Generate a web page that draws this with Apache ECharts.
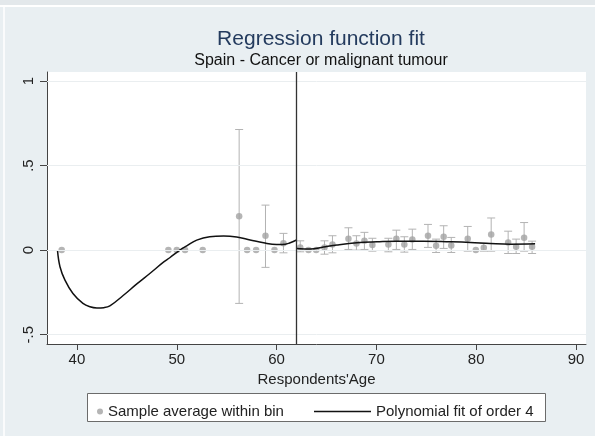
<!DOCTYPE html>
<html>
<head>
<meta charset="utf-8">
<script src="https://cdn.jsdelivr.net/npm/echarts@6/dist/echarts.min.js"></script>
<style>
html,body{margin:0;padding:0;background:#e9eff2;}
#c{width:595px;height:436px;}
</style>
</head>
<body>
<div id="c"></div>
<script>
// ---- data ----
const binAge  = [38.47, 49.16, 50.0, 50.83, 52.6, 56.25, 57.05, 57.95, 58.89, 59.79, 60.69, 62.37, 63.2, 63.97, 64.8, 65.6, 67.2, 68.0, 68.8, 69.6, 71.2, 72.0, 72.8, 73.6, 75.17, 75.98, 76.74, 77.5, 79.15, 79.96, 80.76, 81.5, 83.2, 84.0, 84.8, 85.6];
const binMean = [0, 0, 0, 0, 0, 0.2, 0, 0, 0.085, 0, 0.04, 0.016, 0, 0, 0.016, 0.033, 0.067, 0.039, 0.055, 0.03, 0.033, 0.067, 0.033, 0.063, 0.085, 0.026, 0.079, 0.028, 0.067, 0, 0.014, 0.093, 0.045, 0.02, 0.073, 0.02];
const ciLow   = [null, null, null, null, null, -0.315, null, null, -0.102, null, -0.016, -0.01, null, null, -0.024, -0.016, 0.004, 0, 0.004, -0.006, -0.01, 0.004, -0.012, 0.004, 0.016, -0.014, 0.01, -0.014, -0.006, null, -0.006, -0.006, -0.02, -0.02, -0.006, -0.02];
const ciHigh  = [null, null, null, null, null, 0.713, null, null, 0.266, null, 0.099, 0.055, null, null, 0.055, 0.085, 0.132, 0.085, 0.105, 0.07, 0.07, 0.118, 0.079, 0.124, 0.152, 0.065, 0.144, 0.075, 0.14, null, 0.04, 0.19, 0.112, 0.065, 0.163, 0.053];

const fitLeftAge = [38.05, 38.3, 38.8, 39.6, 40.6, 41.3, 42.0, 42.7, 43.3, 44.6, 46.0, 47.3, 48.7, 49.3, 50.3, 51.0, 52.0, 53.3, 54.7, 56.0, 57.35, 58.7, 60.0, 60.6, 61.3, 62.0];
const fitLeftVal = [0, -0.098, -0.177, -0.256, -0.315, -0.335, -0.342, -0.34, -0.33, -0.27, -0.2, -0.138, -0.07, -0.045, 0, 0.025, 0.059, 0.079, 0.083, 0.077, 0.06, 0.043, 0.033, 0.033, 0.042, 0.06];
const fitRightAge = [62.0, 63.4, 64.7, 66.05, 68.05, 70.06, 72.07, 74.7, 77.4, 79.4, 81.4, 83.4, 85.9];
const fitRightVal = [0.01, 0.006, 0.018, 0.03, 0.043, 0.049, 0.053, 0.053, 0.049, 0.045, 0.039, 0.035, 0.037];

const cutoff = 62;
const xTicks = [40, 50, 60, 70, 80, 90];
const yTicks = [-0.5, 0, 0.5, 1];
const yTickText = {'-0.5': '-.5', '0': '0', '0.5': '.5', '1': '1'};

const titleText = 'Regression function fit';
const subtitleText = 'Spain - Cancer or malignant tumour';
const xName = "Respondents'Age";
const nameBins = 'Sample average within bin';
const nameFit = 'Polynomial fit of order 4';

// ---- build ----
const scatterData = binAge.map((a, i) => [a, binMean[i]]);
const ciData = [];
binAge.forEach((a, i) => { if (ciLow[i] !== null) ciData.push([a, ciLow[i], ciHigh[i]]); });
const leftData = fitLeftAge.map((a, i) => [a, fitLeftVal[i]]);
const rightData = fitRightAge.map((a, i) => [a, fitRightVal[i]]);

const FONT = '"Liberation Sans", Arial, sans-serif';
const chart = echarts.init(document.getElementById('c'), null, {renderer: 'canvas'});

chart.setOption({
  backgroundColor: '#e9eff2',
  animation: false,
  title: [
    {text: titleText, left: 316, textAlign: 'center', top: 24,
     textStyle: {fontFamily: FONT, fontSize: 21, fontWeight: 'normal', color: '#243b5e'}},
    {text: subtitleText, left: 316, textAlign: 'center', top: 48,
     textStyle: {fontFamily: FONT, fontSize: 16, fontWeight: 'normal', color: '#111'}}
  ],
  grid: {left: 47, right: 9, top: 72, bottom: 92, show: true, backgroundColor: '#ffffff', borderWidth: 0},
  xAxis: {
    type: 'value', min: 37, max: 91,
    name: xName, nameLocation: 'middle', nameGap: 26,
    nameTextStyle: {fontFamily: FONT, fontSize: 15, color: '#222'},
    axisLine: {show: true, onZero: false, lineStyle: {color: '#444', width: 1}},
    axisTick: {show: true, length: 6, customValues: xTicks, lineStyle: {color: '#444'}},
    axisLabel: {customValues: xTicks, margin: 8, fontFamily: FONT, fontSize: 15, color: '#222'},
    splitLine: {show: false}
  },
  yAxis: {
    type: 'value', min: -0.555, max: 1.053,
    axisLine: {show: true, onZero: false, lineStyle: {color: '#444', width: 1}},
    axisTick: {show: true, length: 7, customValues: yTicks, lineStyle: {color: '#444'}},
    axisLabel: {customValues: yTicks, rotate: 90, margin: 11, fontFamily: FONT, fontSize: 15, color: '#222',
      formatter: v => yTickText[String(v)] !== undefined ? yTickText[String(v)] : String(v)},
    splitLine: {show: false}
  },
  legend: [
    {data: [nameBins], left: 92, top: 399, icon: 'circle', itemWidth: 6, itemHeight: 6,
     textStyle: {fontFamily: FONT, fontSize: 15, color: '#222'}, selectedMode: false},
    {data: [{name: nameFit, icon: 'rect'}], left: 309, top: 399, itemWidth: 57, itemHeight: 1.5,
     textStyle: {fontFamily: FONT, fontSize: 15, color: '#222'}, selectedMode: false}
  ],
  graphic: [
    {type: 'rect', left: 87, top: 393, shape: {width: 458, height: 28}, z: -1,
     style: {fill: '#ffffff', stroke: '#6b6b6b', lineWidth: 1}},
    {type: 'line', shape: {x1: 0, y1: 6, x2: 595, y2: 6}, style: {stroke: '#ffffff', lineWidth: 2}, z: -1},
    {type: 'line', shape: {x1: 4, y1: 6, x2: 4, y2: 436}, style: {stroke: '#ffffff', lineWidth: 1.5}, z: -1},
    {type: 'rect', shape: {x: 0, y: 0, width: 595, height: 5}, style: {fill: '#e3e8eb'}, z: -2}
  ],
  series: [
    {
      type: 'line', name: '_grid', data: [], silent: true,
      markLine: {silent: true, symbol: 'none', label: {show: false},
        lineStyle: {color: '#eaeef0', width: 1, type: 'solid'},
        data: yTicks.map(v => ({yAxis: v}))},
      z: 1
    },
    {
      type: 'custom', name: '_ci', data: ciData, silent: true, z: 2,
      renderItem: function (params, api) {
        const x = api.value(0);
        const lo = api.coord([x, api.value(1)]);
        const hi = api.coord([x, api.value(2)]);
        const w = 4;
        const st = {stroke: '#b3b3b3', lineWidth: 1};
        return {type: 'group', children: [
          {type: 'line', shape: {x1: lo[0], y1: lo[1], x2: hi[0], y2: hi[1]}, style: st},
          {type: 'line', shape: {x1: lo[0] - w, y1: lo[1], x2: lo[0] + w, y2: lo[1]}, style: st},
          {type: 'line', shape: {x1: hi[0] - w, y1: hi[1], x2: hi[0] + w, y2: hi[1]}, style: st}
        ]};
      }
    },
    {
      type: 'scatter', name: nameBins, data: scatterData, symbol: 'circle', symbolSize: 6.5,
      itemStyle: {color: '#a3a3a3'}, z: 3
    },
    {
      type: 'line', name: nameFit, data: leftData, symbol: 'none', smooth: 0.4,
      lineStyle: {color: '#111', width: 1.5}, itemStyle: {color: '#111'}, z: 4,
      markLine: {silent: true, symbol: 'none', label: {show: false},
        lineStyle: {color: '#333', width: 1.3, type: 'solid'},
        data: [{xAxis: cutoff}]}
    },
    {
      type: 'line', name: nameFit, data: rightData, symbol: 'none', smooth: 0.4,
      lineStyle: {color: '#111', width: 1.5}, itemStyle: {color: '#111'}, z: 4
    }
  ]
});
</script>
</body>
</html>
